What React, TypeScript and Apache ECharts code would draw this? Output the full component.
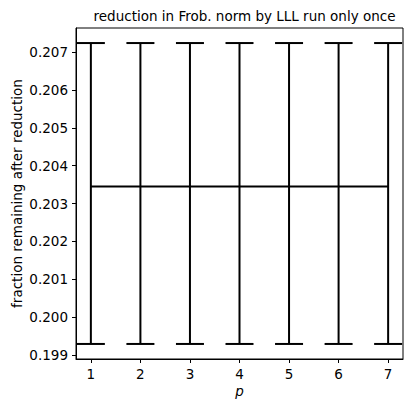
import React, { useEffect, useRef } from "react";
import * as echarts from "echarts";

const titleText = "reduction in Frob. norm by LLL run only once";
const xName = "p";
const yName = "fraction remaining after reduction";
const pValues = [1, 2, 3, 4, 5, 6, 7];
const meanValues = [0.20345, 0.20345, 0.20345, 0.20345, 0.20345, 0.20345, 0.20345];
const lowValues = [0.19929, 0.19929, 0.19929, 0.19929, 0.19929, 0.19929, 0.19929];
const highValues = [0.20724, 0.20724, 0.20724, 0.20724, 0.20724, 0.20724, 0.20724];
const yTicks = [0.199, 0.2, 0.201, 0.202, 0.203, 0.204, 0.205, 0.206, 0.207];
const xTicks = [1, 2, 3, 4, 5, 6, 7];

export default function App() {
  const ref = useRef<HTMLDivElement>(null);
  useEffect(() => {
    if (!ref.current) return;
    const chart = echarts.init(ref.current, null, { renderer: "svg" });
    const font = "DejaVu Sans";
    const fs = 13.5;
    const yMin0 = Math.min(...lowValues);
    const yMax0 = Math.max(...highValues);
    const yPad = (yMax0 - yMin0) * 0.05;
    const xPad = (Math.max(...pValues) - Math.min(...pValues)) * 0.05;
    const errData = pValues.map((p, i) => [p, lowValues[i], highValues[i]]);
    chart.setOption({
      animation: false,
      backgroundColor: "#fff",
      textStyle: { fontFamily: font },
      title: {
        text: titleText,
        left: 239.5,
        textAlign: "center",
        top: 4,
        textStyle: { fontFamily: font, fontSize: fs, fontWeight: "normal", color: "#000" },
      },
      grid: {
        left: 76,
        right: 9,
        top: 28,
        bottom: 51,
        containLabel: false,
        outerBoundsMode: "none",
        show: true,
        borderColor: "#000",
        borderWidth: 1,
        backgroundColor: "transparent",
      },
      xAxis: {
        type: "value",
        min: Math.min(...pValues) - xPad,
        max: Math.max(...pValues) + xPad,
        name: xName,
        nameLocation: "middle",
        nameGap: 25,
        nameMoveOverlap: false,
        nameTextStyle: { fontFamily: font, fontSize: fs, fontStyle: "italic", color: "#000" },
        axisLine: { show: true, lineStyle: { color: "#000", width: 1 } },
        axisTick: { show: true, length: 4, lineStyle: { color: "#000" }, customValues: xTicks },
        axisLabel: {
          customValues: xTicks,
          color: "#000",
          fontSize: fs,
          fontFamily: font,
          margin: 8,
          formatter: (v: number) => String(v),
        },
        splitLine: { show: false },
      },
      yAxis: {
        type: "value",
        min: yMin0 - yPad,
        max: yMax0 + yPad,
        name: yName,
        nameLocation: "middle",
        nameGap: 52,
        nameMoveOverlap: false,
        nameTextStyle: { fontFamily: font, fontSize: fs, color: "#000" },
        axisLine: { show: true, lineStyle: { color: "#000", width: 1 } },
        axisTick: { show: true, length: 4, lineStyle: { color: "#000" }, customValues: yTicks },
        axisLabel: {
          customValues: yTicks,
          color: "#000",
          fontSize: fs,
          fontFamily: font,
          margin: 8,
          formatter: (v: number) => v.toFixed(3),
        },
        splitLine: { show: false },
      },
      series: [
        {
          type: "line",
          data: pValues.map((p, i) => [p, meanValues[i]]),
          symbol: "none",
          lineStyle: { color: "#000", width: 2 },
          z: 3,
        },
        {
          type: "custom",
          data: errData,
          renderItem: (params: any, api: any) => {
            const x = api.value(0);
            const lo = api.coord([x, api.value(1)]);
            const hi = api.coord([x, api.value(2)]);
            const half = 14;
            const style = { stroke: "#000", lineWidth: 2 };
            return {
              type: "group",
              children: [
                { type: "line", shape: { x1: lo[0], y1: lo[1], x2: hi[0], y2: hi[1] }, style },
                { type: "line", shape: { x1: lo[0] - half, y1: lo[1], x2: lo[0] + half, y2: lo[1] }, style },
                { type: "line", shape: { x1: hi[0] - half, y1: hi[1], x2: hi[0] + half, y2: hi[1] }, style },
              ],
            };
          },
          z: 4,
        },
      ],
    });
    return () => chart.dispose();
  }, []);
  return <div ref={ref} style={{ width: 412, height: 410, position: "absolute", left: 0, top: 0 }} />;
}
